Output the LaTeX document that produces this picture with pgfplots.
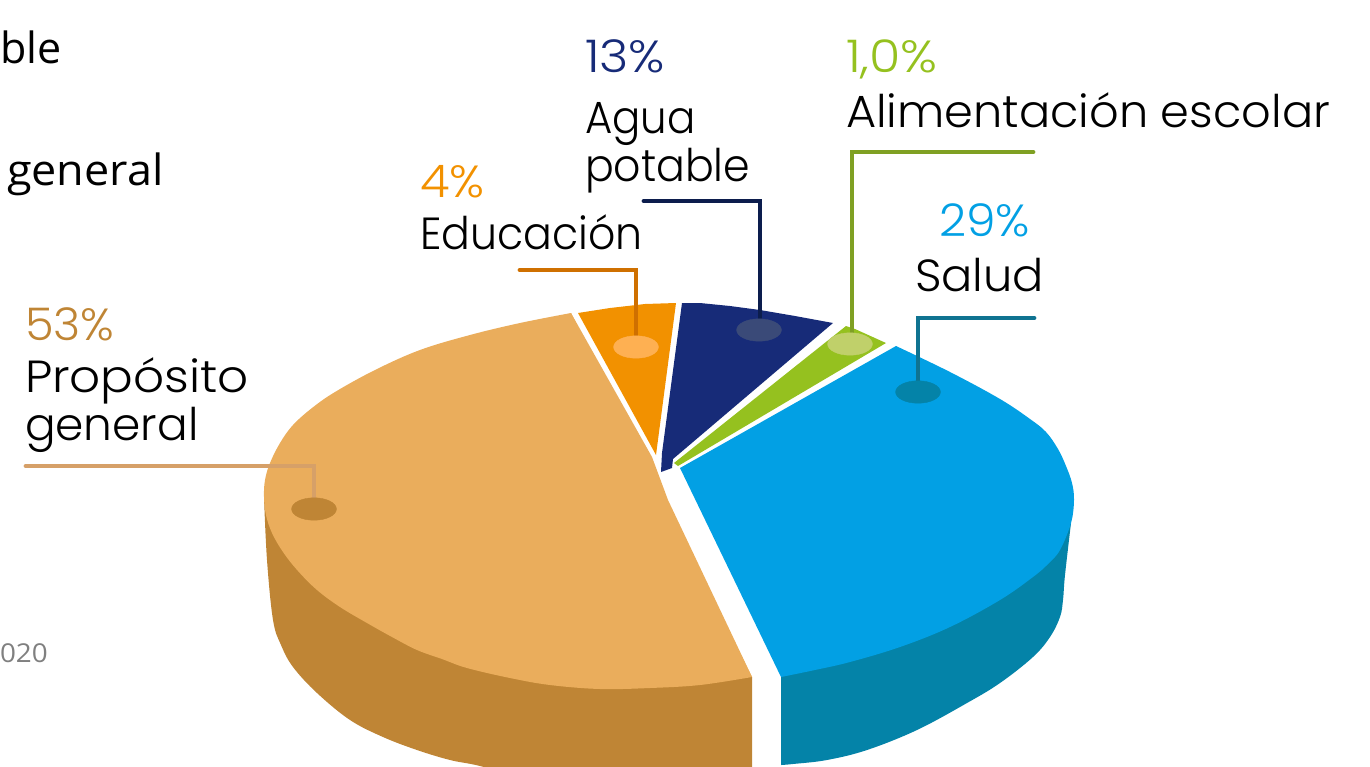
\documentclass[border=0pt]{standalone}
\usepackage{pgfplots}
\pgfplotsset{compat=1.18}
\usepackage{fontspec}
\setmainfont{Poppins}
\newfontfamily\lf{Poppins Light}
\newfontfamily\lft{Open Sans}
\definecolor{tanT}{HTML}{EAAD5C}
\definecolor{tanS}{HTML}{BF8535}
\definecolor{blueT}{HTML}{02A0E4}
\definecolor{blueS}{HTML}{0483A8}
\definecolor{oran}{HTML}{F29100}
\definecolor{navy}{HTML}{172B78}
\definecolor{gren}{HTML}{95C11F}
\definecolor{dA}{RGB}{254,176,82}
\definecolor{dB}{RGB}{58,74,120}
\definecolor{dC}{RGB}{192,208,106}
\newcommand\sx[2]{\scalebox{#1}[1]{#2}}
\tikzset{t/.style={inner sep=0pt,outer sep=0pt,anchor=base west,font=\lf\fontsize{45}{50}\selectfont},
 u/.style={inner sep=0pt,outer sep=0pt,anchor=base west,font=\lft\fontsize{43}{50}\selectfont}}
\begin{document}
\begin{tikzpicture}
\path[use as bounding box,clip] (0,0) rectangle (1370pt,766pt);
\begin{axis}[width=1370pt,height=766pt,scale only axis,hide axis,xmin=0,xmax=1370,ymin=0,ymax=766,y dir=reverse,clip=true]
% sides
\addplot[fill=tanS,draw=none,smooth,tension=0.6] coordinates {(264,497)(267,560)(273,620)(281,645)(293,667)(317,693)(350,720)(383,737)(417,750)(450,760)(480,766)(530,780)(600,795)};
\addplot[fill=tanS,draw=none] coordinates {(264,497)(300,600)(480,740)(560,790)(752,790)(752,677)(600,680)};
\addplot[fill=blueS,draw=none,smooth,tension=0.6] coordinates {(1071,523)(1065,575)(1063,600)(1060,617)(1050,637)(1033,657)(1000,683)(967,703)(917,730)(867,750)(827,760)(793,764)(781,765)};
\addplot[fill=blueS,draw=none] coordinates {(781,677)(781,765)(950,680)(1060,560)(1071,523)(900,600)};
% tops
\addplot[fill=tanT,draw=none,smooth,tension=0.6] coordinates {(571,313)(520,323)(470,335)(420,350)(375,370)(335,392)(312,408)(293,425)(280,443)(270,463)(265,480)(264,497)(266,515)(272,533)(283,552)(298,571)(317,590)(340,607)(367,623)(392,637)(417,650)(442,659)(467,668)(510,678)(550,685)(600,689)(650,688)(700,685)(752,677)};
\addplot[fill=tanT,draw=none] coordinates {(571,313)(420,400)(350,500)(500,640)(752,677)(668,500)(652,457)};
\addplot[fill=blueT,draw=none,smooth,tension=0.6] coordinates {(896,346)(950,372)(1000,399)(1030,419)(1046,432)(1058,449)(1066,466)(1072,483)(1074,500)(1071,523)(1060,550)(1048,564)(1033,577)(1000,600)(950,627)(900,647)(850,662)(815,670)(781,677)};
\addplot[fill=blueT,draw=none] coordinates {(680,468)(896,346)(1000,480)(950,600)(781,677)};
\addplot[fill=gren,draw=none] coordinates {(846,326)(855,329)(886,343)(678,466)(674,463)};
\addplot[fill=navy,draw=none] coordinates {(682,303)(700,303)(730,306)(760,310)(795,316)(833,323)(673,459)(672,468)(661,472)(662,453)};
\addplot[fill=oran,draw=none] coordinates {(578,313)(610,308)(645,304)(676,303)(656,455)};
% dots
\addplot[only marks,mark=*,mark size=11.2pt,mark options={xscale=2,draw=tanS,fill=tanS}] coordinates {(314,509)};
\addplot[only marks,mark=*,mark size=11.2pt,mark options={xscale=2,draw=blueS,fill=blueS}] coordinates {(918,392)};
\addplot[only marks,mark=*,mark size=11.2pt,mark options={xscale=2,draw=dA,fill=dA}] coordinates {(636,347)};
\addplot[only marks,mark=*,mark size=11.2pt,mark options={xscale=2,draw=dB,fill=dB}] coordinates {(759,330)};
\addplot[only marks,mark=*,mark size=11.2pt,mark options={xscale=2,draw=dC,fill=dC}] coordinates {(850,344)};
% leaders
\addplot[line width=4.8pt,color={rgb,255:red,214;green,160;blue,104},line cap=round] coordinates {(26,466)(314,466)(314,509)};
\addplot[line width=4.8pt,color={rgb,255:red,207;green,112;blue,0},line cap=round] coordinates {(520,270)(636,270)(636,345)};
\addplot[line width=4.8pt,color={rgb,255:red,12;green,29;blue,77},line cap=round] coordinates {(644,201)(760,201)(760,330)};
\addplot[line width=4.8pt,color={rgb,255:red,127;green,160;blue,35},line cap=round] coordinates {(1033,152)(852,152)(852,342)};
\addplot[line width=4.8pt,color={rgb,255:red,15;green,115;blue,145},line cap=round] coordinates {(1034,318)(918,318)(918,390)};
% text
\node[t,text=tanS] at (axis cs:25,340) {\sx{1.03}{53\%}};
\node[t] at (axis cs:25,392) {\sx{1.077}{Propósito}};
\node[t] at (axis cs:25,440) {\sx{1.01}{general}};
\node[t,text=oran] at (axis cs:420,197) {\sx{1.07}{4\%}};
\node[t] at (axis cs:420,249) {\sx{0.948}{Educación}};
\node[t,text=navy] at (axis cs:585,72) {\sx{1.11}{13\%}};
\node[t] at (axis cs:585,133) {\sx{0.93}{Agua}};
\node[t] at (axis cs:585,181) {\sx{0.948}{potable}};
\node[t,text=gren] at (axis cs:846,72) {\sx{1.13}{1,0\%}};
\node[t] at (axis cs:846,127) {\sx{1.028}{Alimentación escolar}};
\node[t,text=blueT] at (axis cs:939,236) {\sx{1.05}{29\%}};
\node[t] at (axis cs:915,291) {\sx{1.03}{Salud}};
\node[u] at (axis cs:0,63) {ble};
\node[u] at (axis cs:7,185) {\sx{1.045}{general}};
\node[u,font=\lft\fontsize{26}{30}\selectfont,text=gray] at (axis cs:0,662) {\sx{1.07}{020}};
\end{axis}
\end{tikzpicture}
\end{document}
